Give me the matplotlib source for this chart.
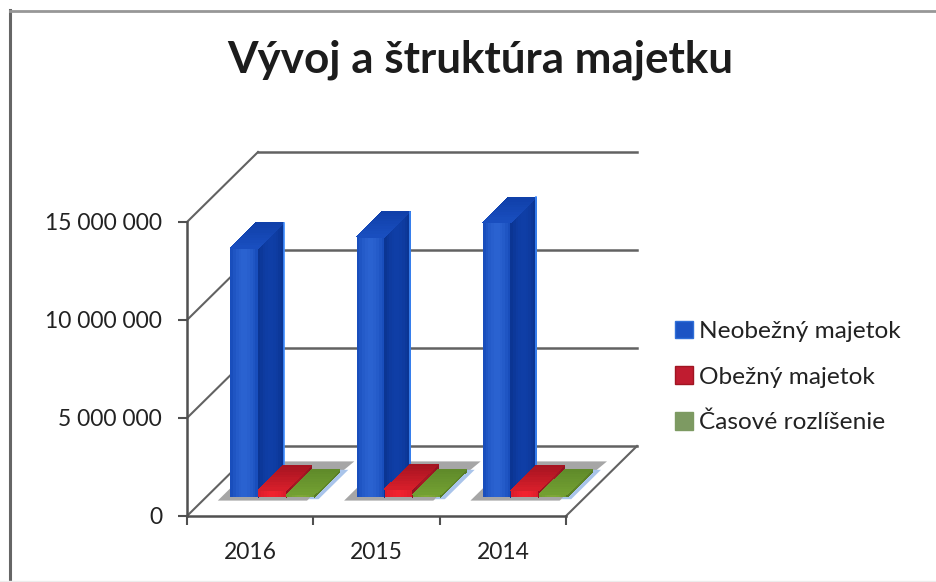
import matplotlib
matplotlib.use("Agg")
import matplotlib.pyplot as plt
import numpy as np
from matplotlib.colors import to_rgb
from matplotlib.lines import Line2D
from matplotlib.patches import Patch, Polygon

plt.rcParams['font.family'] = ['Lato', 'DejaVu Sans']

categories = ['2016', '2015', '2014']
series_names = ['Neobežný majetok', 'Obežný majetok', 'Časové rozlíšenie']
neobezny = [12700000, 13270000, 14000000]
obezny = [350000, 400000, 350000]
casove = [120000, 120000, 120000]
y_ticks = [0, 5000000, 10000000, 15000000]
y_labels = ['0', '5 000 000', '10 000 000', '15 000 000']

# oblique projection, one unit of depth in data units
DX = 71 / 126.3
DY = 70 / 19.6 * 1e6
Z0, Z1 = 0.27, 0.63
BAR_W = 0.222
GAP = 0.19
GRID = '#626262'

blue = {'front': ('#164ab8', '#2a62d0'), 'side': ('#0a3390', '#0f3ea6'), 'top': ('#0f3fa8', '#1a4fc0')}
red = {'front': ('#d81c2a', '#f0222e'), 'side': ('#8e1220', '#a81824'), 'top': ('#a31420', '#d81e2a')}
green = {'front': ('#6f9a30', '#7fa838'), 'side': ('#557a24', '#5f8628'), 'top': ('#5f8a2a', '#73a032')}


def pt(x, v, z):
    return (x + z * DX, v + z * DY)


def face(ax, a, b, c, d, colors, zorder, bump=True):
    # four corners a-b-c-d, cut in strips from edge a-d to edge b-c for the gradient
    a, b, c, d = [np.array(pt(*p)) for p in (a, b, c, d)]
    c1, c2 = np.array(to_rgb(colors[0])), np.array(to_rgb(colors[1]))
    ax.add_patch(Polygon([a, b, c, d], closed=True, fc=(c1 + c2) / 2, ec='none', zorder=zorder, clip_on=False))
    n = 10
    for k in range(n):
        t0, t1 = k / n, (k + 1) / n
        tm = (t0 + t1) / 2
        w = np.sin(tm * np.pi) if bump else tm
        col = c1 + (c2 - c1) * w
        poly = [a + (b - a) * t0, a + (b - a) * t1, d + (c - d) * t1, d + (c - d) * t0]
        ax.add_patch(Polygon(poly, closed=True, fc=col, ec='none', antialiased=False,
                             zorder=zorder, clip_on=False))


def flat(ax, pts, color, zorder):
    ax.add_patch(Polygon([pt(*p) for p in pts], closed=True, fc=color, ec='none',
                         zorder=zorder, clip_on=False))


def bar3d(ax, x0, v, colors, zorder):
    x1 = x0 + BAR_W
    face(ax, (x0, 0, Z0), (x1, 0, Z0), (x1, v, Z0), (x0, v, Z0), colors['front'], zorder)
    face(ax, (x1, 0, Z0), (x1, 0, Z1), (x1, v, Z1), (x1, v, Z0), colors['side'], zorder)
    # top goes from dark at the back to light at the front
    face(ax, (x0, v, Z1), (x0, v, Z0), (x1, v, Z0), (x1, v, Z1), colors['top'], zorder, bump=False)


fig = plt.figure(figsize=(9.36, 5.82), dpi=100, facecolor='white')
ax = fig.add_axes([187 / 936, 66 / 582, 379 / 936, 294 / 582])
ax.patch.set_visible(False)

# walls and floor
for v in y_ticks:
    a, b = pt(0, v, 0), pt(0, v, 1)
    ax.plot([a[0], b[0]], [a[1], b[1]], color=GRID, lw=1.5, clip_on=False, zorder=1)
    a, b = pt(0, v, 1), pt(3, v, 1)
    ax.plot([a[0], b[0]], [a[1], b[1]], color=GRID, lw=1.8, clip_on=False, zorder=1)
a, b = pt(3, 0, 0), pt(3, 0, 1)
ax.plot([a[0], b[0]], [a[1], b[1]], color=GRID, lw=1.5, clip_on=False, zorder=1)

# bars, drawn left to right so the nearer ones cover the others
for i in range(len(categories)):
    x0 = i + GAP
    x3 = x0 + 3 * BAR_W
    z = 10 + i * 5
    flat(ax, [(x0 - 0.07, 0, Z0 - 0.05), (x3 - 0.03, 0, Z0 - 0.05), (x3 + 0.03, 0, Z1 + 0.15), (x0 - 0.07, 0, Z1 + 0.15)],
         '#a6a6a6', z)
    flat(ax, [(x3 - 0.03, 0, Z0 - 0.03), (x3 + 0.05, 0, Z0 - 0.03), (x3 + 0.05, 0, Z1 + 0.03), (x3 - 0.03, 0, Z1 + 0.03)],
         '#a9c4ea', z + 0.5)
    bar3d(ax, x0, neobezny[i], blue, z + 1)
    bar3d(ax, x0 + BAR_W, obezny[i], red, z + 2)
    bar3d(ax, x0 + 2 * BAR_W, casove[i], green, z + 3)
    # light rim on the blue bar
    a, b = pt(x0 + BAR_W, 0, Z1), pt(x0 + BAR_W, neobezny[i], Z1)
    ax.plot([a[0], b[0]], [a[1], b[1]], color='#3f8dff', lw=1.2, zorder=z + 1.5, clip_on=False)

ax.set_xlim(0, 3)
ax.set_ylim(0, 15000000)

# axes
for s in ['top', 'right']:
    ax.spines[s].set_visible(False)
for s in ['left', 'bottom']:
    ax.spines[s].set_color('#505050')
    ax.spines[s].set_linewidth(1.8)
    ax.spines[s].set_zorder(40)
ax.set_yticks(y_ticks)
ax.set_yticklabels(y_labels)
ax.set_xticks([0, 1, 2, 3])
ax.set_xticklabels([])
ax.set_xticks([0.5, 1.5, 2.5], minor=True)
ax.set_xticklabels(categories, minor=True)
ax.tick_params(axis='y', which='major', length=6.5, width=1.5, color='#505050',
               labelsize=16.5, labelcolor='#222222', pad=11.5)
ax.tick_params(axis='x', which='major', length=6.5, width=1.5, color='#505050')
ax.tick_params(axis='x', which='minor', length=0, labelsize=16.5, labelcolor='#222222', pad=19)

fig.text(480 / 936, 1 - 60 / 582, 'Vývoj a štruktúra majetku', fontsize=31.7, fontweight='bold',
         color='#1c1c1c', ha='center', va='center')

handles = [Patch(fc='#1c54c4', ec='#2f6fd8', lw=1),
           Patch(fc='#c01c30', ec='#a01522', lw=1),
           Patch(fc='#7d9a62', ec='#7d9a62', lw=1)]
fig.legend(handles, series_names, loc='center left', bbox_to_anchor=(675 / 936, 1 - 377 / 582),
           frameon=False, fontsize=17.6, labelcolor='#222222', handlelength=0.72, handleheight=0.72,
           handletextpad=0.28, labelspacing=1.0, borderaxespad=0, borderpad=0)

# frame of the chart, only the top and left edges show in the scan
fig.add_artist(Line2D([9.5 / 936, 9.5 / 936], [0, 1 - 10 / 582], color='#666666', lw=2.2))
fig.add_artist(Line2D([9.5 / 936, 1], [1 - 11 / 582, 1 - 11 / 582], color='#979797', lw=2.0))
fig.add_artist(Line2D([0, 1], [1 / 582, 1 / 582], color='#ececec', lw=1.0))

fig.savefig('out.png', dpi=100)
